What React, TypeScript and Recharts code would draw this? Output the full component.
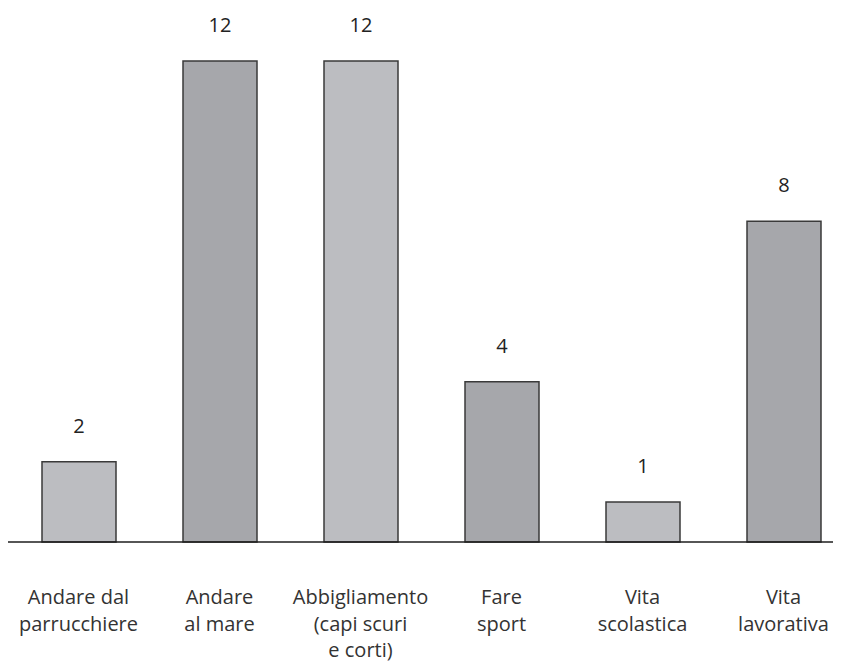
import React from "react";
import { BarChart, Bar, XAxis, YAxis, Cell, LabelList } from "recharts";

// Activity categories (line breaks mark where each label wraps)
const categories = [
  "Andare dal\nparrucchiere",
  "Andare\nal mare",
  "Abbigliamento\n(capi scuri\ne corti)",
  "Fare\nsport",
  "Vita\nscolastica",
  "Vita\nlavorativa",
];

// Number of answers per category
const values = [2, 12, 12, 4, 1, 8];

// Alternating bar fills
const fills = ["#bcbdc1", "#a6a7ab", "#bcbdc1", "#a6a7ab", "#bcbdc1", "#a6a7ab"];

const data = categories.map((name, i) => ({ name, value: values[i] }));

const FONT = "'Open Sans', 'DejaVu Sans', sans-serif";

const CategoryTick = (props: any) => {
  const { x, y, payload } = props;
  const lines = String(payload.value).split("\n");
  return (
    <text
      x={x}
      y={y + 54}
      textAnchor="middle"
      fontFamily={FONT}
      fontSize={20}
      fontWeight={400}
      fill="#333333"
    >
      {lines.map((line: string, i: number) => (
        <tspan key={i} x={x} dy={i === 0 ? 0 : 26.5}>
          {line}
        </tspan>
      ))}
    </text>
  );
};

export default function App() {
  return (
    <div style={{ width: 833, overflow: "hidden" }}>
      <BarChart
        width={846}
        height={658}
        data={data}
        margin={{ top: 53, right: 0, bottom: 0, left: 0 }}
        barSize={74}
      >
        <YAxis hide domain={[0, 12]} />
        <XAxis
          dataKey="name"
          axisLine={{ stroke: "#1e1e1e", strokeWidth: 1.6 }}
          tickLine={false}
          interval={0}
          height={124}
          tick={<CategoryTick />}
        />
        <Bar
          dataKey="value"
          stroke="#3a3a3a"
          strokeWidth={1.5}
          isAnimationActive={false}
        >
          {data.map((_, i) => (
            <Cell key={i} fill={fills[i]} />
          ))}
          <LabelList
            dataKey="value"
            position="top"
            offset={29}
            fontFamily={FONT}
            fontSize={20}
            fontWeight={400}
            fill="#222222"
          />
        </Bar>
      </BarChart>
    </div>
  );
}
